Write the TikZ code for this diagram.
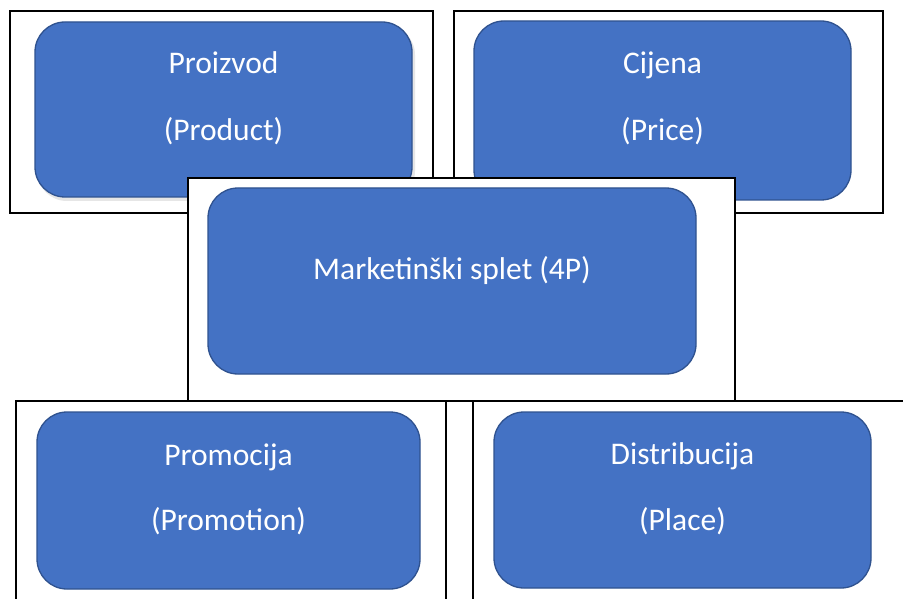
\documentclass[tikz,border=0pt]{standalone}
\usepackage{fontspec}
\setmainfont{Carlito}
\definecolor{boxblue}{HTML}{4472C4}
\definecolor{boxedge}{HTML}{2F528F}
\definecolor{shadowgray}{HTML}{E6E6E6}
\begin{document}
\begin{tikzpicture}[x=1pt,y=-1pt,
  frame/.style={draw=black,fill=white,line width=1.4pt},
  bluebox/.style={draw=boxedge,fill=boxblue,line width=1.3pt,rounded corners=30pt},
  lbl/.style={text=white,font=\fontsize{31.5}{36}\selectfont,inner sep=0pt,anchor=base}]
\useasboundingbox (0,0) rectangle (903,599);
\clip (0,0) rectangle (903,599);
% top-left
\draw[frame] (10,11) rectangle (433,213);
\fill[shadowgray,rounded corners=30pt] (37,25) rectangle (415,201);
\draw[bluebox] (35,22) rectangle (412,197);
\node[lbl] (p1) at (223.5,74) {Proizvod};
\node[lbl] (p2) at (223.5,141) {(Product)};
% top-right
\draw[frame] (454,11) rectangle (883,213);
\draw[bluebox] (474,21) rectangle (851,200);
\node[lbl] (c1) at (662.5,74) {Cijena};
\node[lbl] (c2) at (662.5,141) {(Price)};
% middle
\draw[frame] (188,178) rectangle (735,401);
\draw[bluebox] (208,188) rectangle (696,374);
\node[lbl] (m1) at (452,279) {Marketinški splet (4P)};
% bottom-left
\draw[frame] (16,401) rectangle (446,620);
\draw[bluebox] (37,412) rectangle (420,589);
\node[lbl] (pr1) at (228.5,465) {Promocija};
\node[lbl] (pr2) at (228.5,530) {(Promotion)};
% bottom-right
\draw[frame] (473,401) rectangle (920,620);
\draw[bluebox] (494,412) rectangle (871,588);
\node[lbl] (d1) at (682.5,464) {Distribucija};
\node[lbl] (d2) at (682.5,530) {(Place)};
\end{tikzpicture}
\end{document}
